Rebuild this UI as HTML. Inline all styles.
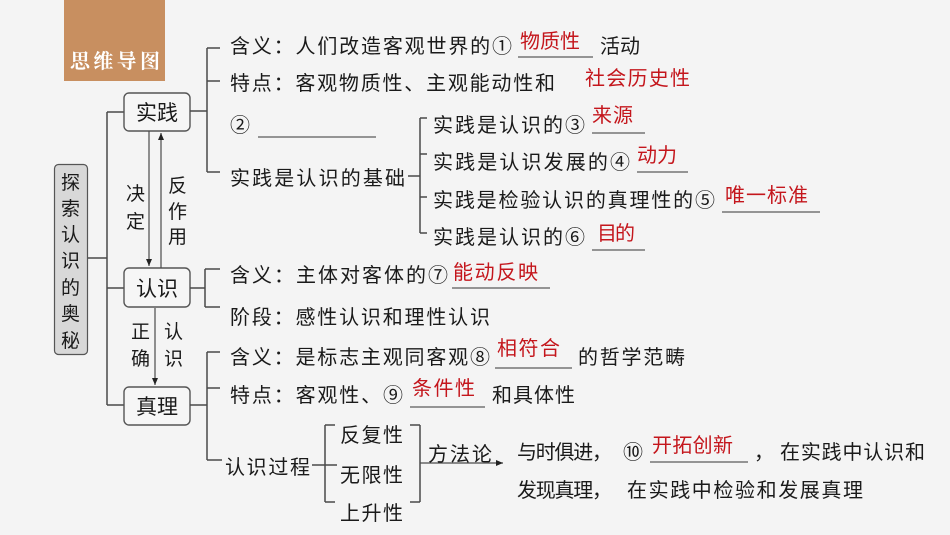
<!DOCTYPE html>
<html><head><meta charset="utf-8">
<style>
html,body{margin:0;padding:0;background:#f4f4f4;}
svg{display:block;}
text{font-family:"Liberation Sans","Noto Sans CJK SC",sans-serif;font-size:20px;fill:#1a1a1a;}
.r{fill:#c4161c;}
.ln{stroke:#4a4a4a;stroke-width:1.5;fill:none;}
.ul{stroke:#333;stroke-width:1;}
</style></head>
<body>
<svg width="950" height="535" viewBox="0 0 950 535" xmlns="http://www.w3.org/2000/svg">
<defs>
<marker id="ah" markerWidth="8" markerHeight="8" refX="7" refY="4" orient="auto" markerUnits="userSpaceOnUse">
<path d="M0,1 L7,4 L0,7 Z" fill="#222"/>
</marker>
</defs>
<rect width="950" height="535" fill="#f4f4f4"/>
<!-- title box -->
<rect x="64" y="0" width="101" height="81" fill="#c88f60"/>
<text x="70" y="68" textLength="90" style="font-family:'Noto Serif CJK SC','Liberation Serif',serif;font-weight:bold;fill:#fff;font-size:20px">思维导图</text>

<!-- left label -->
<rect x="54.5" y="164.5" width="33" height="190" rx="4" fill="#d8d8d8" stroke="#555" stroke-width="1.2"/>
<g style="font-size:19px">
<text x="61" y="189" style="font-size:19px">探</text>
<text x="61" y="215" style="font-size:19px">索</text>
<text x="61" y="241" style="font-size:19px">认</text>
<text x="61" y="267" style="font-size:19px">识</text>
<text x="61" y="294" style="font-size:19px">的</text>
<text x="61" y="320" style="font-size:19px">奥</text>
<text x="61" y="347" style="font-size:19px">秘</text>
</g>

<!-- main tree lines -->
<path class="ln" d="M88 258 H107 M107 112 V405 M107 112 H124 M107 288 H124 M107 405 H124"/>
<rect x="124" y="93" width="66" height="38" rx="5" fill="#f6f6f6" stroke="#555" stroke-width="1.4"/>
<rect x="124" y="268" width="66" height="39" rx="5" fill="#f6f6f6" stroke="#555" stroke-width="1.4"/>
<rect x="124" y="387" width="66" height="38" rx="5" fill="#f6f6f6" stroke="#555" stroke-width="1.4"/>
<text x="136" y="120" textLength="42" style="font-size:21px">实践</text>
<text x="136" y="296" textLength="42" style="font-size:21px">认识</text>
<text x="136" y="414" textLength="42" style="font-size:21px">真理</text>

<!-- arrows between boxes -->
<line class="ln" x1="149" y1="131" x2="149" y2="266" marker-end="url(#ah)" style="stroke-width:1.2"/>
<line class="ln" x1="161" y1="268" x2="161" y2="133" marker-end="url(#ah)" style="stroke-width:1.2"/>
<line class="ln" x1="155" y1="308" x2="155" y2="385" marker-end="url(#ah)" style="stroke-width:1.2"/>
<text x="126" y="200" style="font-size:19px">决</text>
<text x="126" y="228" style="font-size:19px">定</text>
<text x="168" y="192" style="font-size:19px">反</text>
<text x="168" y="218" style="font-size:19px">作</text>
<text x="168" y="243" style="font-size:19px">用</text>
<text x="131" y="338" style="font-size:19px">正</text>
<text x="131" y="365" style="font-size:19px">确</text>
<text x="164" y="338" style="font-size:19px">认</text>
<text x="164" y="365" style="font-size:19px">识</text>

<!-- 实践 branch -->
<path class="ln" d="M190 111 H207 M207 48 V172 M207 48 H220 M207 81 H220 M207 172 H220"/>
<text x="230" y="53" textLength="282">含义：人们改造客观世界的①</text>
<text class="r" x="520" y="48" textLength="60">物质性</text>
<line class="ul" x1="518" y1="57" x2="593" y2="57"/>
<text x="600" y="53" textLength="40">活动</text>
<text x="230" y="90" textLength="325">特点：客观物质性、主观能动性和</text>
<text class="r" x="585" y="85" textLength="105">社会历史性</text>
<text x="230" y="132">②</text>
<line class="ul" x1="258" y1="137" x2="376" y2="137"/>
<text x="230" y="185" textLength="175">实践是认识的基础</text>

<path class="ln" d="M408 176 H420 M420 118 V233 M420 118 H427 M420 154 H427 M420 197 H427 M420 233 H427"/>
<text x="433" y="132" textLength="152">实践是认识的③</text>
<text class="r" x="592" y="122" textLength="41">来源</text>
<line class="ul" x1="592" y1="133" x2="645" y2="133"/>
<text x="433" y="169" textLength="197">实践是认识发展的④</text>
<text class="r" x="637" y="162" textLength="40">动力</text>
<line class="ul" x1="637" y1="172" x2="688" y2="172"/>
<text x="433" y="207" textLength="282">实践是检验认识的真理性的⑤</text>
<text class="r" x="725" y="202" textLength="83">唯一标准</text>
<line class="ul" x1="722" y1="212" x2="820" y2="212"/>
<text x="433" y="244" textLength="152">实践是认识的⑥</text>
<text class="r" x="597" y="240" textLength="38">目的</text>
<line class="ul" x1="592" y1="250" x2="645" y2="250"/>

<!-- 认识 branch -->
<path class="ln" d="M190 288 H205 M205 269 V307 M205 269 H220 M205 307 H220"/>
<text x="230" y="282" textLength="218">含义：主体对客体的⑦</text>
<text class="r" x="453" y="279" textLength="85">能动反映</text>
<line class="ul" x1="452" y1="288" x2="550" y2="288"/>
<text x="230" y="324" textLength="260">阶段：感性认识和理性认识</text>

<!-- 真理 branch -->
<path class="ln" d="M190 405 H207 M207 352 V460 M207 352 H220 M207 388 H220 M207 460 H222"/>
<text x="230" y="364" textLength="260">含义：是标志主观同客观⑧</text>
<text class="r" x="497" y="355" textLength="63">相符合</text>
<line class="ul" x1="495" y1="368" x2="572" y2="368"/>
<text x="578" y="364" textLength="107">的哲学范畴</text>
<text x="230" y="402" textLength="173">特点：客观性、⑨</text>
<text class="r" x="412" y="395" textLength="63">条件性</text>
<line class="ul" x1="410" y1="407" x2="485" y2="407"/>
<text x="492" y="402" textLength="83">和具体性</text>

<text x="225" y="474" textLength="85">认识过程</text>
<path class="ln" d="M312 465 H337 M325 425 V502 M325 425 H335 M325 502 H335"/>
<text x="340" y="442" textLength="63">反复性</text>
<text x="340" y="482" textLength="63">无限性</text>
<text x="340" y="520" textLength="63">上升性</text>
<path class="ln" d="M420 425 V502 M410 425 H420 M410 502 H420"/>
<line class="ln" x1="420" y1="463" x2="503" y2="463" marker-end="url(#ah)" style="stroke-width:1.2"/>
<text x="428" y="461" textLength="64">方法论</text>

<text x="517" y="459" textLength="95">与时俱进，</text>
<text x="623" y="459" textLength="22">⑩</text>
<text class="r" x="652" y="452" textLength="81">开拓创新</text>
<line class="ul" x1="650" y1="462" x2="748" y2="462"/>
<text x="754" y="459">，</text>
<text x="780" y="459" textLength="145">在实践中认识和</text>
<text x="517" y="497" textLength="95">发现真理，</text>
<text x="627" y="497" textLength="236">在实践中检验和发展真理</text>
</svg>
</body></html>
